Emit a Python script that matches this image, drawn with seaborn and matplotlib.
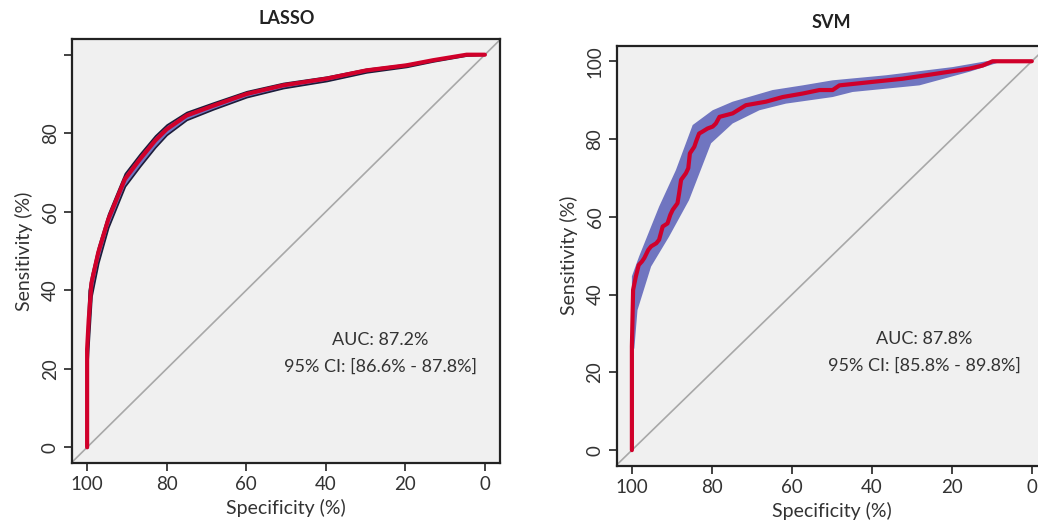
import matplotlib
matplotlib.use("Agg")
import matplotlib.pyplot as plt
import seaborn as sns
import pandas as pd

# ---------------- data ----------------
lasso_spec = [100, 100, 99.6, 98.9, 97.2, 94.7, 90.5, 86.7, 82.9, 80.0, 75.0, 68.3, 59.9, 50.7, 39.8, 29.8, 19.7, 13.0, 4.6, 0]
lasso_sens = [0, 25, 32.5, 41.9, 49.6, 58.0, 68.3, 73.4, 78.1, 81.0, 84.5, 87.0, 90.0, 92.2, 93.9, 96.0, 97.3, 98.6, 100, 100]
lasso_upper = [0, 30, 40, 44.0, 51.2, 59.5, 69.8, 74.8, 79.4, 82.2, 85.4, 87.8, 90.7, 92.8, 94.4, 96.4, 97.6, 98.8, 100, 100]
lasso_lower = [0, 20, 27, 38.5, 47.0, 56.0, 66.5, 71.6, 76.4, 79.6, 83.4, 86.1, 89.2, 91.5, 93.3, 95.5, 96.9, 98.3, 99.8, 100]

svm_spec = [100, 100, 99.7, 99.0, 98.3, 97.5, 96.9, 95.9, 95.2, 93.9, 93.2, 92.3, 91.1, 90.4, 89.8, 88.6, 88.2, 87.7,
            86.5, 85.9, 85.5, 84.4, 83.9, 83.2, 82.2, 81.1, 79.8, 79.0, 78.1, 74.8, 71.5, 66.5, 62.3, 57.3, 53.1,
            49.8, 48.1, 39.8, 32.3, 23.9, 15.6, 12.3, 9.8, 0]
svm_sens = [0, 26.7, 41.2, 44.7, 47.6, 48.5, 49.4, 51.5, 52.4, 53.2, 54.1, 57.5, 58.3, 60.5, 61.8, 63.5, 66.0, 69.5,
            71.2, 72.5, 76.3, 78.0, 79.5, 81.4, 82.0, 82.7, 83.2, 84.0, 85.7, 86.6, 88.7, 89.6, 90.8, 91.7, 92.6,
            92.6, 93.8, 94.7, 95.5, 96.8, 98.1, 98.9, 100, 100]

svm_band_spec = [100, 100, 98.2, 93.2, 89.0, 84.8, 79.8, 74.8, 64.8, 57.3, 49.8, 36.4, 19.8, 11.4, 0]
svm_band_upper = [27.5, 44.7, 49.8, 62.6, 72.0, 83.6, 87.4, 89.6, 92.6, 93.8, 95.1, 96.4, 98.5, 100, 100]
svm_lo_spec = [100, 99.4, 98.6, 95.2, 90.7, 85.7, 80.2, 74.8, 68.1, 61.5, 49.8, 44.8, 28.1, 15.6, 7.3, 0]
svm_band_lower = [27.5, 26.0, 36.0, 47.2, 54.9, 64.3, 78.9, 84.0, 87.4, 89.1, 90.8, 92.1, 93.8, 97.3, 100, 100]

titles = ["LASSO", "SVM"]
auc_text = ["AUC: 87.2%", "AUC: 87.8%"]
ci_text = ["95% CI: [86.6% - 87.8%]", "95% CI: [85.8% - 89.8%]"]
xticks = [100, 80, 60, 40, 20, 0]
yticks = [0, 20, 40, 60, 80, 100]
lasso_ylabels = ["0", "20", "40", "60", "80", ""]
svm_ylabels = ["0", "20", "40", "60", "80", "100"]

# ---------------- style ----------------
sns.set_style("ticks")
plt.rcParams["font.family"] = ["Lato", "DejaVu Sans"]

BG = "#f0f0f0"
BAND = "#7075c0"
RED = "#d0002a"
TXT = "#333333"

fig = plt.figure(figsize=(10.38, 5.30), dpi=100)
ax1 = fig.add_axes([72 / 1038, (530 - 463) / 530, 428 / 1038, 424 / 530])
ax2 = fig.add_axes([616.7 / 1038, (530 - 465.7) / 530, 430.3 / 1038, 420 / 530])


def style_ax(ax, ylabels):
    ax.set_facecolor(BG)
    ax.axline((100, 0), (0, 100), color="#a8a8a8", lw=1.2, zorder=1)
    ax.set_xticks(xticks)
    ax.set_xticklabels([str(t) for t in xticks])
    ax.set_yticks(yticks)
    ax.set_yticklabels(ylabels, rotation=90, va="center")
    ax.tick_params(axis="both", direction="out", length=6, width=1.2, labelsize=13.5,
                   colors="#222222", labelcolor=TXT)
    for s in ax.spines.values():
        s.set_linewidth(1.6)
        s.set_color("#222222")


def finish(ax):
    ax.set_xlim(103.8, -3.8)
    ax.set_ylim(-4, 104)
    ax.set_xlabel("Specificity (%)", fontsize=14, color=TXT, labelpad=4)
    ax.set_ylabel("Sensitivity (%)", fontsize=14, color=TXT, labelpad=6)


# LASSO
style_ax(ax1, lasso_ylabels)
ax1.fill_between(lasso_spec, lasso_lower, lasso_upper, facecolor=BAND, edgecolor="#1c1c3a",
                 lw=1.2, zorder=2)
df1 = pd.DataFrame({"spec": lasso_spec, "sens": lasso_sens})
sns.lineplot(data=df1, x="spec", y="sens", sort=False, estimator=None, color=RED, lw=3, ax=ax1, zorder=3)
finish(ax1)
ax1.text(0.72, 0.29, auc_text[0], transform=ax1.transAxes, ha="center", va="center", fontsize=13, color=TXT)
ax1.text(0.72, 0.226, ci_text[0], transform=ax1.transAxes, ha="center", va="center", fontsize=13, color=TXT)
fig.text(287 / 1038, 1 - 18 / 530, titles[0], ha="center", va="center", fontsize=13, fontweight="bold", color="#222222")

# SVM
style_ax(ax2, svm_ylabels)
poly_x = svm_band_spec + svm_lo_spec[::-1]
poly_y = svm_band_upper + svm_band_lower[::-1]
ax2.fill(poly_x, poly_y, facecolor=BAND, edgecolor="none", zorder=2)
df2 = pd.DataFrame({"spec": svm_spec, "sens": svm_sens})
sns.lineplot(data=df2, x="spec", y="sens", sort=False, estimator=None, color=RED, lw=3, ax=ax2, zorder=3)
finish(ax2)
ax2.text(0.715, 0.302, auc_text[1], transform=ax2.transAxes, ha="center", va="center", fontsize=13, color=TXT)
ax2.text(0.715, 0.237, ci_text[1], transform=ax2.transAxes, ha="center", va="center", fontsize=13, color=TXT)
fig.text(831 / 1038, 1 - 23 / 530, titles[1], ha="center", va="center", fontsize=13, fontweight="bold", color="#222222")

fig.savefig("out.png", dpi=100, facecolor="white")
